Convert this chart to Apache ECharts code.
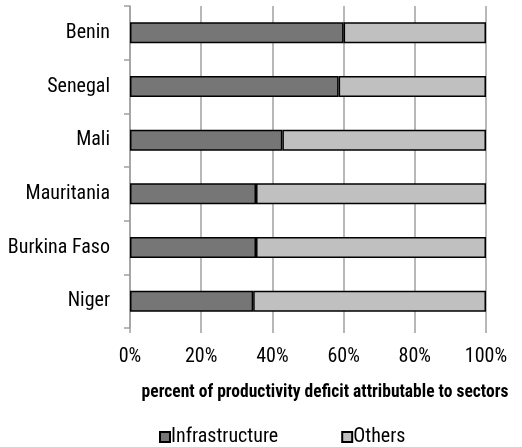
<!DOCTYPE html>
<html>
<head>
<meta charset="utf-8">
<script src="https://cdn.jsdelivr.net/npm/echarts@6/dist/echarts.min.js"></script>
<style>
    html, body {margin:0;padding:0;background:#ffffff;}
    #chart {width:522px;height:447px;}
</style>
</head>
<body>
<div id="chart"></div>
<script>
    // countries, top to bottom
    var countries = ['Benin', 'Senegal', 'Mali', 'Mauritania', 'Burkina Faso', 'Niger'];
    // share of the deficit, percent
    var infrastructure = [60.0, 58.6, 42.8, 35.4, 35.4, 34.6];
    var others = [40.0, 41.4, 57.2, 64.6, 64.6, 65.4];
    var xTicks = [0, 20, 40, 60, 80, 100];

    var font = '"Roboto Condensed", "Liberation Sans", sans-serif';

    var chart = echarts.init(document.getElementById('chart'));
    var option = {
        animation: false,
        textStyle: {fontFamily: font, color: '#000'},
        grid: {left: 130, right: 36, top: 6, bottom: 119, containLabel: false},
        legend: {
            bottom: 0,
            left: 159,
            padding: 0,
            itemWidth: 10,
            itemHeight: 10,
            itemGap: 63,
            icon: 'rect',
            textStyle: {fontFamily: font, fontSize: 20, color: '#000', padding: [0, 0, 0, -4]},
            data: ['Infrastructure', 'Others']
        },
        xAxis: {
            type: 'value',
            min: xTicks[0],
            max: xTicks[xTicks.length - 1],
            interval: 20,
            name: 'percent of productivity deficit attributable to sectors',
            nameLocation: 'middle',
            nameGap: 56,
            nameTextStyle: {fontFamily: font, fontSize: 17.5, fontWeight: 'bold', color: '#000', padding: [0, 0, 0, 34]},
            axisLine: {show: false},
            axisTick: {show: true, length: 5, lineStyle: {color: '#a0a0a0', width: 1.5}},
            axisLabel: {formatter: '{value}%', fontSize: 20, color: '#000', margin: 19, fontFamily: font},
            splitLine: {show: true, lineStyle: {color: '#a0a0a0', width: 1.5}}
        },
        yAxis: {
            type: 'category',
            inverse: true,
            data: countries,
            axisLine: {show: true, lineStyle: {color: '#a0a0a0', width: 1.5}},
            axisTick: {show: true, length: 6, lineStyle: {color: '#a0a0a0', width: 1.5}},
            axisLabel: {fontSize: 20, color: '#000', margin: 20, fontFamily: font}
        },
        series: [
            {
                name: 'Infrastructure',
                type: 'bar',
                stack: 'total',
                barWidth: 21,
                data: infrastructure,
                itemStyle: {color: '#767676', borderColor: '#000', borderWidth: 1.5}
            },
            {
                name: 'Others',
                type: 'bar',
                stack: 'total',
                barWidth: 21,
                data: others,
                itemStyle: {color: '#c0c0c0', borderColor: '#000', borderWidth: 1.5}
            }
        ]
    };
    chart.setOption(option);
</script>
</body>
</html>
